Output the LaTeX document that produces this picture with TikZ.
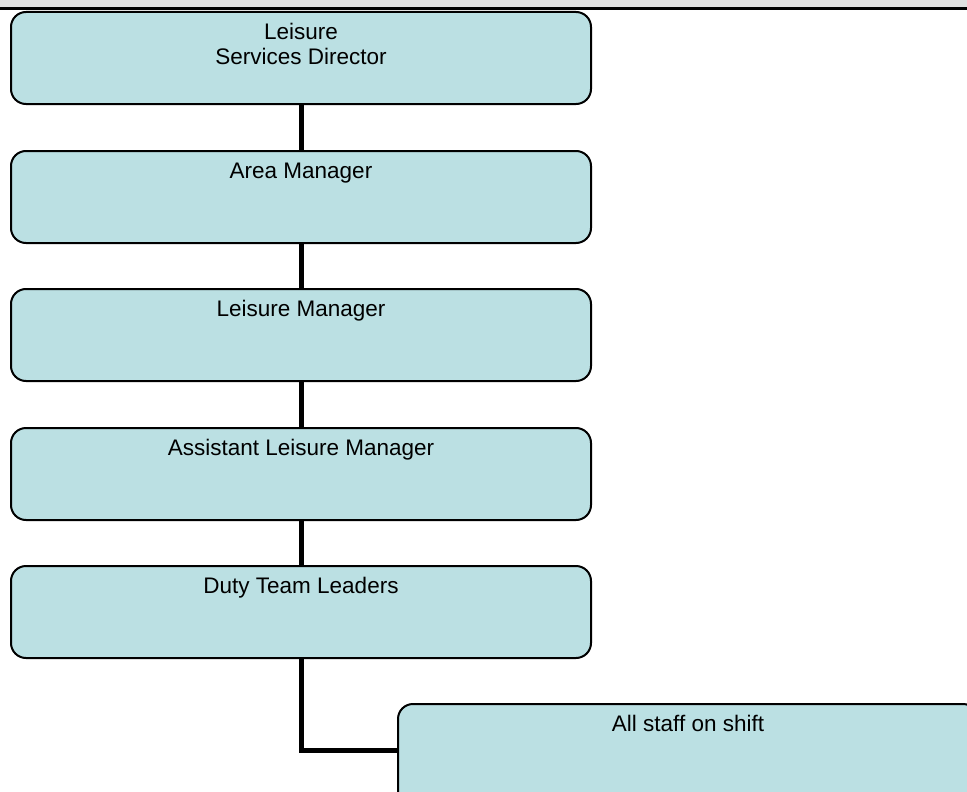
\documentclass[tikz,border=0pt]{standalone}
\usepackage{fontspec}
\setmainfont{Liberation Sans}
\definecolor{boxfill}{RGB}{187,224,227}
\definecolor{barfill}{RGB}{224,224,224}
\begin{document}
\begin{tikzpicture}[x=1pt,y=-1pt,
  orgbox/.style={draw=black,line width=2pt,fill=boxfill,rounded corners=15pt,
    minimum width=580pt,minimum height=92pt,inner sep=0pt,outer sep=0pt,anchor=north west},
  lbl/.style={font=\fontsize{22.5}{25}\selectfont,align=center,anchor=base,inner sep=0pt},
  link/.style={line width=5pt}]
\useasboundingbox (0,0) rectangle (967,792);
\fill[barfill] (0,0) rectangle (967,8.5);
\draw[line width=2.2pt] (0,8.5) -- (967,8.5);
\node[orgbox] (b1) at (11,12) {};
\node[orgbox] (b2) at (11,151) {};
\node[orgbox] (b3) at (11,289) {};
\node[orgbox] (b4) at (11,428) {};
\node[orgbox] (b5) at (11,566) {};
\node[orgbox,minimum height=130pt] (b6) at (398,704) {};
\node[lbl] (t1) at ([yshift=-28pt]b1.north) {Leisure};
\node[lbl] (t1b) at ([yshift=-53pt]b1.north) {Services Director};
\node[lbl] (t2) at ([yshift=-27pt]b2.north) {Area Manager};
\node[lbl] (t3) at ([yshift=-27pt]b3.north) {Leisure Manager};
\node[lbl] (t4) at ([yshift=-27pt]b4.north) {Assistant Leisure Manager};
\node[lbl] (t5) at ([yshift=-27pt]b5.north) {Duty Team Leaders};
\node[lbl] (t6) at ([yshift=-27pt]b6.north) {All staff on shift};
\draw[link] (b1.south) -- (b2.north);
\draw[link] (b2.south) -- (b3.north);
\draw[link] (b3.south) -- (b4.north);
\draw[link] (b4.south) -- (b5.north);
\draw[link] (b5.south) |- (b6.west |- 0,750);
\end{tikzpicture}
\end{document}
